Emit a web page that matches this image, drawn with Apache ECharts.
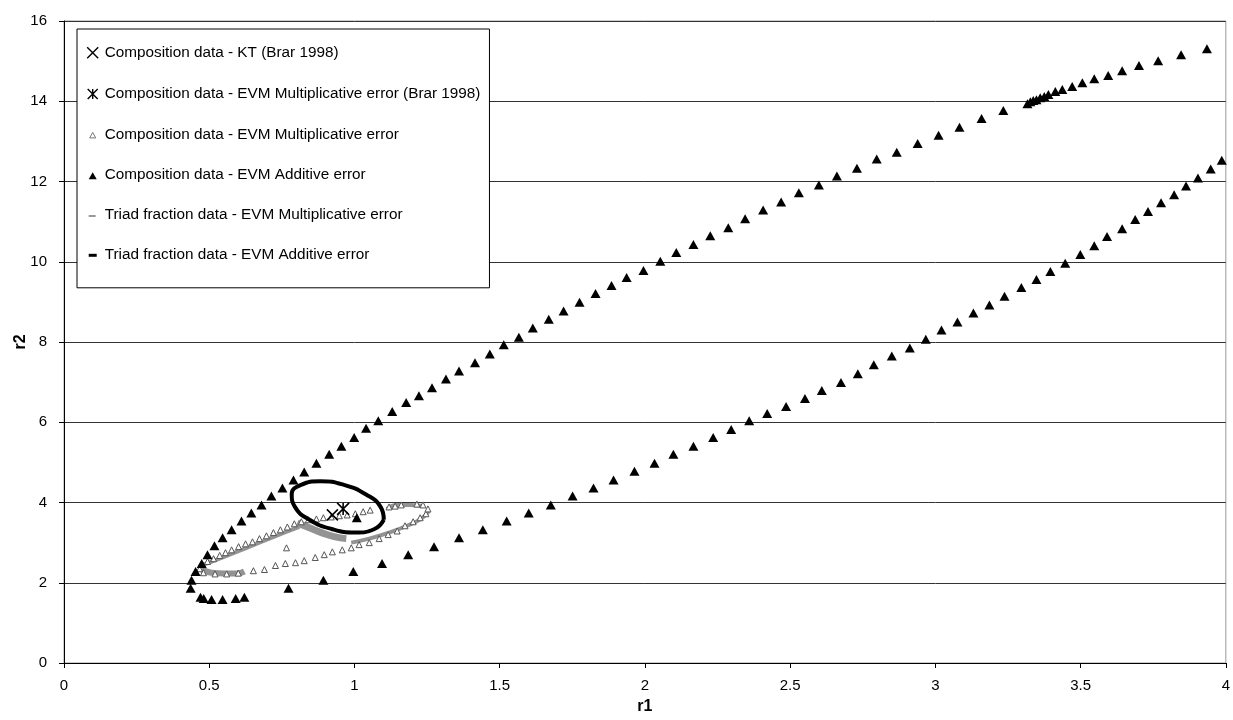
<!DOCTYPE html>
<html>
<head>
<meta charset="utf-8">
<script src="https://cdn.jsdelivr.net/npm/echarts@6/dist/echarts.min.js"></script>
<style>
  html, body { margin: 0; padding: 0; background: #fff; }
  #chart { width: 1233px; height: 720px; }
</style>
</head>
<body>
<div id="chart"></div>
<script>
// Axis ticks
const xTicks = [0, 0.5, 1, 1.5, 2, 2.5, 3, 3.5, 4];
const yTicks = [0, 2, 4, 6, 8, 10, 12, 14, 16];

// Series names
const seriesNames = [
  'Composition data - KT (Brar 1998)',
  'Composition data - EVM Multiplicative error (Brar 1998)',
  'Composition data - EVM Multiplicative error',
  'Composition data - EVM Additive error',
  'Triad fraction data - EVM Multiplicative error',
  'Triad fraction data - EVM Additive error'
];

// Point estimates (r1, r2)
const ktPoint = [[0.924, 3.69]];
const brarEvmPoint = [[0.961, 3.84]];

// Composition data, multiplicative error: point estimate + joint confidence contour
const multContour = [
  [0.766, 2.87],
  [0.467, 2.35], [0.48, 2.25], [0.52, 2.22], [0.56, 2.22], [0.60, 2.24],
  [0.652, 2.30], [0.690, 2.33], [0.728, 2.43], [0.762, 2.48], [0.797, 2.50],
  [0.827, 2.55], [0.865, 2.63], [0.896, 2.70], [0.924, 2.77], [0.958, 2.82],
  [0.989, 2.87], [1.016, 2.95], [1.051, 3.00], [1.085, 3.10], [1.116, 3.20],
  [1.147, 3.29], [1.174, 3.42], [1.202, 3.52], [1.226, 3.62], [1.246, 3.72],
  [1.253, 3.84], [1.236, 3.94], [1.215, 3.96], [1.161, 3.94], [1.140, 3.91],
  [1.119, 3.89], [1.054, 3.81], [1.030, 3.77], [1.003, 3.72], [0.975, 3.69],
  [0.948, 3.67], [0.920, 3.64], [0.893, 3.62], [0.869, 3.59], [0.841, 3.57],
  [0.817, 3.52], [0.793, 3.47], [0.769, 3.39], [0.745, 3.32], [0.721, 3.25],
  [0.697, 3.17], [0.673, 3.10], [0.649, 3.02], [0.625, 2.97], [0.601, 2.90],
  [0.577, 2.82], [0.556, 2.75], [0.536, 2.68], [0.515, 2.60], [0.494, 2.53],
  [0.477, 2.45]
];

// Composition data, additive error: point estimate + joint confidence contour
const addContour = [
  [1.008, 3.62],
  [0.621, 1.64], [0.591, 1.61], [0.546, 1.58], [0.508, 1.58], [0.481, 1.61], [0.470, 1.64],
  [0.436, 1.86], [0.439, 2.06], [0.453, 2.28], [0.474, 2.48], [0.494, 2.70],
  [0.518, 2.92], [0.546, 3.12], [0.577, 3.32], [0.611, 3.54], [0.645, 3.74],
  [0.680, 3.94], [0.714, 4.16], [0.752, 4.36], [0.790, 4.56], [0.827, 4.76],
  [0.869, 4.98], [0.913, 5.20], [0.955, 5.40], [0.999, 5.62], [1.040, 5.85],
  [1.082, 6.04], [1.130, 6.27], [1.178, 6.49], [1.222, 6.66], [1.267, 6.86],
  [1.315, 7.08], [1.360, 7.28], [1.415, 7.48], [1.466, 7.70], [1.514, 7.93],
  [1.566, 8.12], [1.614, 8.35], [1.669, 8.57], [1.720, 8.77], [1.775, 8.99],
  [1.830, 9.21], [1.885, 9.41], [1.937, 9.61], [1.995, 9.78], [2.053, 10.01],
  [2.108, 10.23], [2.167, 10.43], [2.225, 10.65], [2.287, 10.85], [2.345, 11.07],
  [2.407, 11.29], [2.469, 11.49], [2.530, 11.72], [2.599, 11.91], [2.661, 12.14],
  [2.730, 12.33], [2.798, 12.56], [2.867, 12.73], [2.939, 12.95], [3.011, 13.15],
  [3.083, 13.35], [3.159, 13.57], [3.234, 13.77],
  [3.317, 13.94], [3.327, 13.99], [3.337, 14.02], [3.348, 14.04], [3.361, 14.09],
  [3.375, 14.12], [3.389, 14.17], [3.413, 14.24], [3.437, 14.29], [3.471, 14.37],
  [3.506, 14.46], [3.547, 14.56], [3.595, 14.64], [3.643, 14.76], [3.701, 14.89],
  [3.767, 15.01], [3.846, 15.16], [3.935, 15.31],
  [0.773, 1.86], [0.893, 2.06], [0.996, 2.28], [1.095, 2.48], [1.185, 2.70],
  [1.274, 2.90], [1.360, 3.12], [1.442, 3.32], [1.524, 3.54], [1.600, 3.74],
  [1.676, 3.94], [1.751, 4.16], [1.823, 4.36], [1.892, 4.56], [1.964, 4.78],
  [2.033, 4.98], [2.098, 5.20], [2.167, 5.40], [2.235, 5.62], [2.297, 5.82],
  [2.359, 6.04], [2.421, 6.22], [2.486, 6.39], [2.551, 6.59], [2.609, 6.79],
  [2.675, 6.99], [2.733, 7.21], [2.788, 7.43], [2.850, 7.65], [2.912, 7.85],
  [2.967, 8.07], [3.021, 8.30], [3.076, 8.50], [3.131, 8.72], [3.186, 8.92],
  [3.238, 9.14], [3.296, 9.36], [3.348, 9.56], [3.396, 9.76], [3.447, 9.96],
  [3.499, 10.18], [3.547, 10.40], [3.591, 10.63], [3.643, 10.82], [3.688, 11.05],
  [3.732, 11.25], [3.777, 11.47], [3.822, 11.67], [3.863, 11.89], [3.904, 12.09],
  [3.948, 12.31], [3.986, 12.53]
];

// Triad fraction data, multiplicative error: densely sampled contour pieces
const triadMultPieces = [
  [[0.474, 2.33], [0.508, 2.25], [0.553, 2.23], [0.594, 2.23], [0.621, 2.28]],
  [[0.481, 2.45], [0.553, 2.65], [0.639, 2.90], [0.724, 3.15], [0.810, 3.39]],
  [[0.803, 3.49], [0.845, 3.37], [0.886, 3.25], [0.930, 3.15], [0.972, 3.10]],
  [[0.989, 3.00], [1.051, 3.10], [1.119, 3.25], [1.181, 3.42], [1.229, 3.59], [1.257, 3.79]],
  [[1.112, 3.84], [1.147, 3.94], [1.188, 3.94], [1.240, 3.91]]
];
const triadMultWidths = [6, 4, 7, 4, 4];

// Triad fraction data, additive error: closed contour
const triadAddRing = [
  [1.101, 3.57], [1.069, 3.34], [1.003, 3.25], [0.921, 3.34], [0.845, 3.57],
  [0.795, 3.89], [0.784, 4.21], [0.816, 4.44], [0.882, 4.53], [0.964, 4.44],
  [1.040, 4.20], [1.090, 3.89], [1.101, 3.57]
];

const FONT = 'Liberation Sans, Arial, sans-serif';

// Plot markers
const xMark = 'path://M0,0 L10,10 M10,0 L0,10';
const starMark = 'path://M0,0 L10,10 M10,0 L0,10 M5,0 L5,10';

// Legend icons, drawn inside a fixed 14x16 frame so they keep their own size
const FRAME = 'M0,0 M14,16 ';
const iconX = 'path://' + FRAME + 'M1.5,2.5 L12.5,13.5 M12.5,2.5 L1.5,13.5';
const iconStar = 'path://' + FRAME + 'M2,3 L12,13 M12,3 L2,13 M7,3 L7,13';
const iconOpenTri = 'path://' + FRAME + 'M4,11 L7,5.5 L10,11 Z';
const iconTri = 'path://' + FRAME + 'M3,12 L7,5 L11,12 Z';
const iconGrayDash = 'path://' + FRAME + 'M3,8 L10,8 L10,10 L3,10 Z';
const iconDash = 'path://' + FRAME + 'M3,7 L11,7 L11,10 L3,10 Z';

const chart = echarts.init(document.getElementById('chart'), null, { renderer: 'canvas' });

const series = [
  {
    name: seriesNames[2], type: 'scatter', data: multContour,
    symbol: 'triangle', symbolSize: 6, z: 3,
    itemStyle: { color: '#fff', borderColor: '#555', borderWidth: 1, opacity: 1 }
  },
  {
    name: seriesNames[3], type: 'scatter', data: addContour,
    symbol: 'triangle', symbolSize: [10, 9], z: 4,
    itemStyle: { color: '#000', opacity: 1 }
  }
];
triadMultPieces.forEach((piece, i) => {
  series.push({
    name: seriesNames[4], type: 'line', data: piece, smooth: true,
    showSymbol: false, symbol: 'none', z: 2,
    color: '#939393',
    lineStyle: { color: '#939393', width: triadMultWidths[i] }
  });
});
series.push({
  name: seriesNames[5], type: 'line', data: triadAddRing, smooth: true,
  showSymbol: false, symbol: 'none', z: 5,
  color: '#000',
  lineStyle: { color: '#000', width: 4 }
});
series.push({
  name: seriesNames[0], type: 'scatter', data: ktPoint,
  symbol: xMark, symbolSize: 11, z: 6,
  itemStyle: { color: 'rgba(0,0,0,0)', borderColor: '#000', borderWidth: 1.6, opacity: 1 }
});
series.push({
  name: seriesNames[1], type: 'scatter', data: brarEvmPoint,
  symbol: starMark, symbolSize: 12, z: 6,
  itemStyle: { color: 'rgba(0,0,0,0)', borderColor: '#000', borderWidth: 1.6, opacity: 1 }
});

chart.setOption({
  animation: false,
  backgroundColor: '#fff',
  textStyle: { fontFamily: FONT },
  grid: {
    left: 64, right: 4, top: 21, bottom: 53,
    show: true, borderColor: '#9a9a9a', borderWidth: 1, backgroundColor: '#fff'
  },
  legend: {
    orient: 'vertical',
    left: 77, top: 29,
    padding: [15, 9, 25, 8],
    itemGap: 23.8,
    itemWidth: 14, itemHeight: 16,
    backgroundColor: '#fff',
    borderColor: '#000', borderWidth: 1,
    textStyle: { fontFamily: FONT, fontSize: 15.3, color: '#000', lineHeight: 16 },
    data: [
      { name: seriesNames[0], icon: iconX, itemStyle: { color: 'rgba(0,0,0,0)', borderColor: '#000', borderWidth: 1.4 } },
      { name: seriesNames[1], icon: iconStar, itemStyle: { color: 'rgba(0,0,0,0)', borderColor: '#000', borderWidth: 1.4 } },
      { name: seriesNames[2], icon: iconOpenTri, itemStyle: { color: '#fff', borderColor: '#777', borderWidth: 1 } },
      { name: seriesNames[3], icon: iconTri, itemStyle: { color: '#000', borderWidth: 0 } },
      { name: seriesNames[4], icon: iconGrayDash, itemStyle: { color: '#999', borderWidth: 0 } },
      { name: seriesNames[5], icon: iconDash, itemStyle: { color: '#000', borderWidth: 0 } }
    ]
  },
  xAxis: {
    type: 'value', min: xTicks[0], max: xTicks[xTicks.length - 1], interval: 0.5,
    name: 'r1', nameLocation: 'middle', nameGap: 36,
    nameTextStyle: { fontFamily: FONT, fontSize: 16, fontWeight: 'bold', color: '#000' },
    axisLine: { show: true, onZero: false, lineStyle: { color: '#000', width: 1 } },
    axisTick: { show: true, inside: false, length: 5, lineStyle: { color: '#000' } },
    axisLabel: {
      fontFamily: FONT, fontSize: 15, color: '#000', margin: 15,
      formatter: v => (xTicks.includes(v) ? String(v) : '')
    },
    splitLine: { show: false }
  },
  yAxis: {
    type: 'value', min: yTicks[0], max: yTicks[yTicks.length - 1], interval: 2,
    name: 'r2', nameLocation: 'middle', nameGap: 35, nameRotate: 90,
    nameMoveOverlap: false,
    nameTextStyle: { fontFamily: FONT, fontSize: 16, fontWeight: 'bold', color: '#000' },
    axisLine: { show: true, onZero: false, lineStyle: { color: '#000', width: 1 } },
    axisTick: { show: true, inside: false, length: 5, lineStyle: { color: '#000' } },
    axisLabel: {
      fontFamily: FONT, fontSize: 15, color: '#000', margin: 17,
      formatter: v => (yTicks.includes(v) ? String(v) : '')
    },
    splitLine: { show: true, lineStyle: { color: '#333', width: 1 } }
  },
  series: series
});
</script>
</body>
</html>
